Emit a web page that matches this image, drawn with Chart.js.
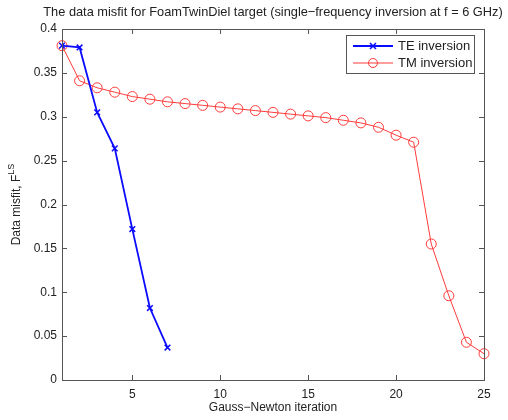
<!DOCTYPE html>
<html>
<head>
<meta charset="utf-8">
<script src="https://cdn.jsdelivr.net/npm/chart.js@4"></script>
<style>
  html, body { margin: 0; padding: 0; background: #fff; }
  #wrap { width: 508px; height: 420px; }
</style>
</head>
<body>
<div id="wrap"><canvas id="misfit"></canvas></div>
<script>
const TITLE = 'The data misfit for FoamTwinDiel target (single\u2212frequency inversion at f = 6 GHz)';
const X_LABEL = 'Gauss\u2212Newton iteration';
const X_TICKS = [5, 10, 15, 20, 25];
const Y_TICKS = [0, 0.05, 0.1, 0.15, 0.2, 0.25, 0.3, 0.35, 0.4];

const teIter = [1, 2, 3, 4, 5, 6, 7];
const teMisfit = [0.381, 0.379, 0.305, 0.264, 0.172, 0.082, 0.037];

const tmIter = [1, 2, 3, 4, 5, 6, 7, 8, 9, 10, 11, 12, 13, 14, 15, 16, 17, 18, 19, 20, 21, 22, 23, 24, 25];
const tmMisfit = [0.381, 0.341, 0.333, 0.328, 0.323, 0.320, 0.317, 0.315, 0.313, 0.311, 0.309, 0.307, 0.305, 0.303, 0.301, 0.299, 0.296, 0.293, 0.288, 0.279, 0.271, 0.155, 0.096, 0.043, 0.030];

const FONT = '"Liberation Sans", Arial, sans-serif';
const TE_COLOR = '#0a0aff';
const TM_COLOR = '#ff3b3b';

// box, inward ticks, title, axis labels and legend drawn like matlab
const matlabFrame = {
  id: 'matlabFrame',
  afterDraw(chart) {
    const { ctx, chartArea: a, scales } = chart;
    ctx.save();
    ctx.strokeStyle = '#555';
    ctx.lineWidth = 1;
    ctx.strokeRect(a.left + 0.5, a.top + 0.5, a.right - a.left, a.bottom - a.top);
    ctx.beginPath();
    X_TICKS.forEach(v => {
      const x = Math.round(scales.x.getPixelForValue(v)) + 0.5;
      ctx.moveTo(x, a.bottom); ctx.lineTo(x, a.bottom - 5);
      ctx.moveTo(x, a.top); ctx.lineTo(x, a.top + 5);
    });
    Y_TICKS.forEach(v => {
      const y = Math.round(scales.y.getPixelForValue(v)) + 0.5;
      ctx.moveTo(a.left, y); ctx.lineTo(a.left + 5, y);
      ctx.moveTo(a.right, y); ctx.lineTo(a.right - 5, y);
    });
    ctx.stroke();

    ctx.fillStyle = '#222';
    ctx.font = '12.8px ' + FONT;
    ctx.textAlign = 'center';
    ctx.textBaseline = 'middle';
    ctx.fillText(TITLE, (a.left + a.right) / 2, 12);

    ctx.font = '12px ' + FONT;
    ctx.fillText(X_LABEL, (a.left + a.right) / 2, 408);

    // y label with superscript
    ctx.translate(17, (a.top + a.bottom) / 2);
    ctx.rotate(-Math.PI / 2);
    const main = 'Data misfit, F';
    const sup = 'LS';
    ctx.font = '12px ' + FONT;
    const wMain = ctx.measureText(main).width;
    ctx.font = '9px ' + FONT;
    const wSup = ctx.measureText(sup).width;
    const x0 = -(wMain + wSup) / 2;
    ctx.textAlign = 'left';
    ctx.font = '12px ' + FONT;
    ctx.fillText(main, x0, 0);
    ctx.font = '9px ' + FONT;
    ctx.fillText(sup, x0 + wMain, -5);
    ctx.setTransform(1, 0, 0, 1, 0, 0);

    // legend
    const lx = 346, ly = 35, lw = 128, lh = 38;
    ctx.fillStyle = '#fff';
    ctx.fillRect(lx, ly, lw, lh);
    ctx.strokeStyle = '#555';
    ctx.strokeRect(lx + 0.5, ly + 0.5, lw, lh);
    const items = [
      { label: 'TE inversion', color: TE_COLOR, width: 2, y: 46, mark: 'x' },
      { label: 'TM inversion', color: TM_COLOR, width: 1, y: 63, mark: 'o' }
    ];
    items.forEach(it => {
      ctx.strokeStyle = it.color;
      ctx.lineWidth = it.width;
      ctx.beginPath();
      ctx.moveTo(353, it.y); ctx.lineTo(393, it.y);
      ctx.stroke();
      ctx.lineWidth = 1.5;
      ctx.beginPath();
      if (it.mark === 'x') {
        ctx.moveTo(370, it.y - 3); ctx.lineTo(376, it.y + 3);
        ctx.moveTo(376, it.y - 3); ctx.lineTo(370, it.y + 3);
      } else {
        ctx.lineWidth = 1;
        ctx.arc(373, it.y, 4.5, 0, Math.PI * 2);
      }
      ctx.stroke();
      ctx.fillStyle = '#222';
      ctx.font = '13px ' + FONT;
      ctx.textAlign = 'left';
      ctx.fillText(it.label, 398, it.y);
    });
    ctx.restore();
  }
};

new Chart(document.getElementById('misfit'), {
  type: 'line',
  data: {
    datasets: [
      {
        label: 'TE inversion',
        data: teIter.map((x, i) => ({ x, y: teMisfit[i] })),
        borderColor: TE_COLOR,
        backgroundColor: TE_COLOR,
        borderWidth: 1.8,
        pointStyle: 'crossRot',
        pointRadius: 4,
        pointBorderWidth: 1.5,
        tension: 0,
        clip: false
      },
      {
        label: 'TM inversion',
        data: tmIter.map((x, i) => ({ x, y: tmMisfit[i] })),
        borderColor: TM_COLOR,
        backgroundColor: 'rgba(0,0,0,0)',
        borderWidth: 1,
        pointStyle: 'circle',
        pointRadius: 5,
        pointBorderWidth: 1,
        tension: 0,
        clip: false
      }
    ]
  },
  options: {
    responsive: true,
    maintainAspectRatio: false,
    animation: false,
    layout: { padding: { top: 29, right: 24, left: 0, bottom: 0 } },
    plugins: { legend: { display: false }, title: { display: false }, tooltip: { enabled: false } },
    scales: {
      x: {
        type: 'linear',
        min: 1, max: 25,
        grid: { display: false, drawTicks: false },
        border: { display: false },
        afterBuildTicks: s => { s.ticks = X_TICKS.map(v => ({ value: v })); },
        afterFit: s => { s.height = 40; },
        ticks: { color: '#222', font: { family: FONT, size: 12 }, padding: 7 }
      },
      y: {
        min: 0, max: 0.4,
        grid: { display: false, drawTicks: false },
        border: { display: false },
        afterBuildTicks: s => { s.ticks = Y_TICKS.map(v => ({ value: v })); },
        afterFit: s => { s.width = 62; },
        ticks: { color: '#222', font: { family: FONT, size: 12 }, padding: 5, callback: v => String(v) }
      }
    }
  },
  plugins: [matlabFrame]
});
</script>
</body>
</html>
